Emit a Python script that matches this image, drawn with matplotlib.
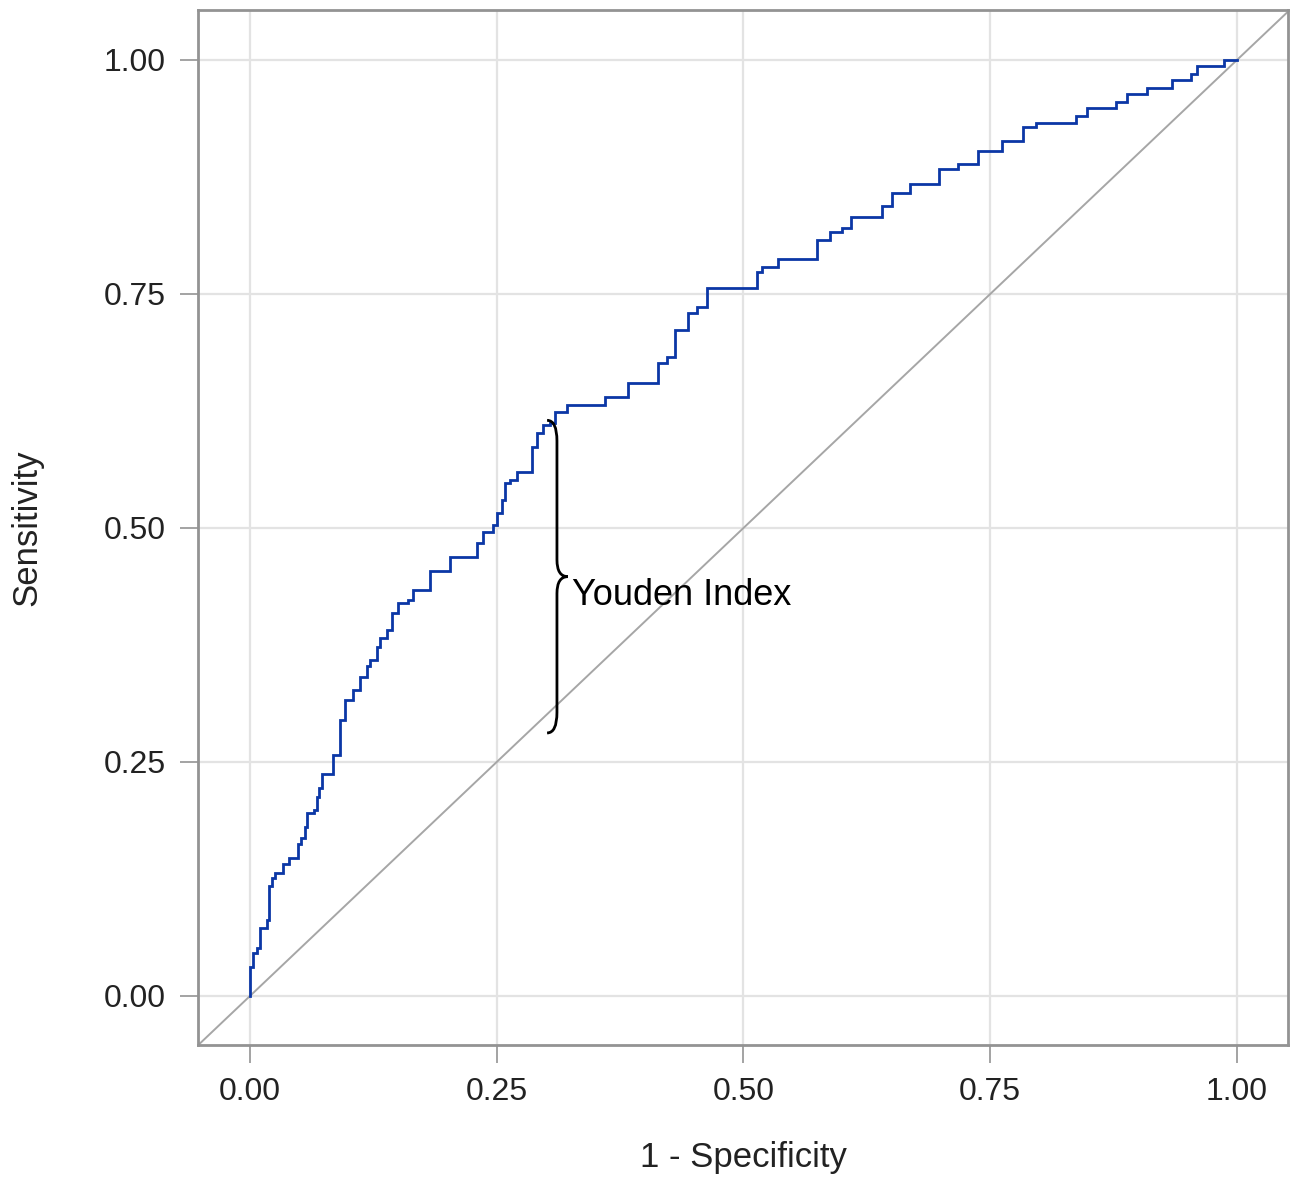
import matplotlib
matplotlib.use("Agg")
import matplotlib.pyplot as plt
from matplotlib.path import Path
from matplotlib.patches import PathPatch

plt.rcParams['font.family'] = ['Liberation Sans', 'DejaVu Sans']

# ROC curve step corners: at each fpr the curve rises to tpr
fpr = [0.000, 0.000, 0.0034, 0.0068, 0.010, 0.017, 0.019, 0.022, 0.025, 0.033,
       0.040, 0.049, 0.052, 0.056, 0.058, 0.065, 0.068, 0.070, 0.073, 0.084,
       0.091, 0.096, 0.104, 0.111, 0.119, 0.122, 0.129, 0.132, 0.139, 0.144,
       0.150, 0.160, 0.165, 0.182, 0.203, 0.230, 0.236, 0.246, 0.250, 0.255,
       0.258, 0.263, 0.271, 0.286, 0.291, 0.297, 0.304, 0.309, 0.321, 0.360,
       0.383, 0.413, 0.422, 0.431, 0.444, 0.453, 0.463, 0.514, 0.519, 0.535,
       0.574, 0.588, 0.600, 0.609, 0.640, 0.650, 0.669, 0.698, 0.717, 0.738,
       0.762, 0.783, 0.796, 0.837, 0.848, 0.877, 0.889, 0.909, 0.934, 0.953,
       0.960, 0.987, 1.000]
tpr = [0.000, 0.031, 0.046, 0.051, 0.073, 0.081, 0.117, 0.126, 0.131, 0.141,
       0.147, 0.162, 0.169, 0.181, 0.195, 0.199, 0.213, 0.222, 0.237, 0.257,
       0.295, 0.316, 0.327, 0.341, 0.352, 0.359, 0.373, 0.382, 0.391, 0.409,
       0.420, 0.423, 0.434, 0.454, 0.469, 0.484, 0.496, 0.503, 0.516, 0.530,
       0.548, 0.551, 0.560, 0.587, 0.601, 0.610, 0.612, 0.624, 0.631, 0.640,
       0.655, 0.676, 0.683, 0.712, 0.730, 0.736, 0.756, 0.774, 0.779, 0.787,
       0.808, 0.816, 0.821, 0.832, 0.844, 0.858, 0.867, 0.883, 0.889, 0.903,
       0.913, 0.928, 0.933, 0.940, 0.949, 0.955, 0.964, 0.970, 0.979, 0.985,
       0.994, 1.000, 1.000]

ticks = [0.0, 0.25, 0.5, 0.75, 1.0]
tick_labels = ['0.00', '0.25', '0.50', '0.75', '1.00']

# Youden index annotation
youden_x = 0.301
youden_top = 0.615
youden_bottom = 0.281
youden_label = 'Youden Index'

fig = plt.figure(figsize=(12.95, 11.8), dpi=100)
ax = fig.add_axes([198/1295, 135/1180, 1090/1295, 1035/1180])

ax.set_xlim(-0.0527, 1.0517)
ax.set_ylim(-0.0524, 1.0534)

ax.set_xticks(ticks)
ax.set_xticklabels(tick_labels)
ax.set_yticks(ticks)
ax.set_yticklabels(tick_labels)

ax.grid(True, color='#e3e3e3', linewidth=1.6)
ax.set_axisbelow(True)

for s in ax.spines.values():
    s.set_color('#939393')
    s.set_linewidth(2.0)

ax.tick_params(axis='both', direction='out', length=13, width=1.2,
               color='#939393', labelsize=23, labelcolor='#222222', pad=10)

# diagonal reference
ax.axline((0, 0), (1, 1), color='#a6a6a6', linewidth=1.4, zorder=2)

# ROC curve
ax.plot(fpr, tpr, drawstyle='steps-post', color='#0b37a6', linewidth=2.0,
        zorder=3, solid_joinstyle='miter')

# brace
xv = youden_x + 0.010
xc = youden_x + 0.021
mid = (youden_top + youden_bottom) / 2
h = 0.022
hc = 0.018
verts = [
    (youden_x, youden_top),
    (xv, youden_top), (xv, youden_top - h),
    (xv, mid + hc),
    (xv, mid), (xc, mid),
    (xv, mid), (xv, mid - hc),
    (xv, youden_bottom + h),
    (xv, youden_bottom), (youden_x, youden_bottom),
]
codes = [Path.MOVETO,
         Path.CURVE3, Path.CURVE3,
         Path.LINETO,
         Path.CURVE3, Path.CURVE3,
         Path.CURVE3, Path.CURVE3,
         Path.LINETO,
         Path.CURVE3, Path.CURVE3]
ax.add_patch(PathPatch(Path(verts, codes), facecolor='none', edgecolor='black',
                       linewidth=2.0, zorder=4))
ax.text(xc + 0.004, mid - 0.020, youden_label, fontsize=26, ha='left',
        va='center', color='black', zorder=5)

ax.set_xlabel('1 - Specificity', fontsize=25, color='#222222')
ax.set_ylabel('Sensitivity', fontsize=25, color='#222222')
ax.xaxis.set_label_coords(0.5, -0.093)
ax.yaxis.set_label_coords(-0.142, 0.5)

fig.savefig('out.png', dpi=100)
